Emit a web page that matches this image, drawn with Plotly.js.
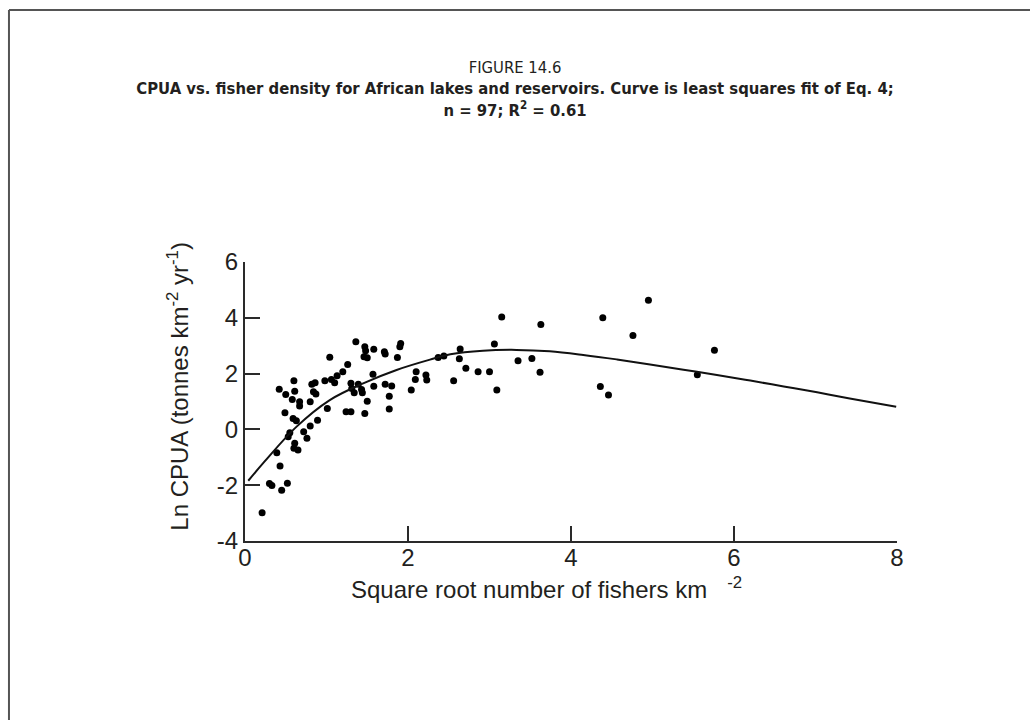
<!DOCTYPE html>
<html><head><meta charset="utf-8">
<script src="https://cdn.plot.ly/plotly-3.0.1.min.js"></script>
<style>html,body{margin:0;padding:0;background:#fff}#chart{width:1030px;height:720px}</style>
</head><body><div id="chart"></div>
<script>
// Observed lakes/reservoirs: sqrt fishers km^-2 vs Ln CPUA
const fisherX = [0.21,0.30,0.33,0.45,0.52,0.43,0.39,0.42,0.50,0.49,0.60,0.61,0.58,0.67,0.67,0.59,0.63,0.55,0.53,0.61,0.60,0.65,0.72,0.76,0.80,0.89,0.80,0.82,0.86,0.84,0.87,1.01,0.98,1.04,1.06,1.10,1.13,1.20,1.26,1.24,1.30,1.30,1.31,1.34,1.36,1.39,1.43,1.44,1.47,1.50,1.47,1.48,1.46,1.50,1.58,1.57,1.58,1.71,1.72,1.72,1.80,1.77,1.77,1.87,1.90,1.91,2.04,2.10,2.09,2.22,2.23,2.37,2.44,2.56,2.64,2.63,2.71,2.86,3.00,3.06,3.09,3.15,3.35,3.52,3.63,3.62,4.36,4.39,4.46,4.76,4.95,5.55,5.76];
const cpuaY = [-2.99,-1.94,-2.01,-2.18,-1.93,-1.31,-0.84,1.44,1.25,0.60,1.74,1.37,1.07,0.99,0.84,0.39,0.31,-0.12,-0.26,-0.50,-0.68,-0.74,-0.08,-0.32,0.12,0.33,0.99,1.62,1.67,1.35,1.27,0.75,1.74,2.59,1.79,1.67,1.92,2.07,2.33,0.63,0.63,1.65,1.47,1.31,3.14,1.62,1.43,1.31,0.57,1.01,2.96,2.82,2.60,2.57,2.87,1.98,1.55,2.78,2.70,1.62,1.56,1.19,0.73,2.58,2.96,3.08,1.41,2.07,1.79,1.95,1.77,2.58,2.63,1.74,2.88,2.53,2.19,2.07,2.07,3.06,1.41,4.03,2.46,2.54,3.76,2.05,1.54,4.00,1.23,3.37,4.63,1.96,2.84];
// Least squares curve (Eq. 4)
const fitX = [0.04,0.22,0.63,1.04,1.45,1.86,2.27,2.52,2.92,3.33,3.74,4.15,4.56,4.97,5.38,5.79,6.20,6.61,7.02,7.42,7.99];
const fitY = [-1.84,-1.22,0.09,1.05,1.65,2.13,2.50,2.69,2.82,2.85,2.80,2.67,2.51,2.33,2.14,1.95,1.75,1.54,1.33,1.11,0.81];
// Faint speck above the axis top
const speckX = [3.57];
const speckY = [6.46];
const xTickVals = [0,2,4,6,8];
const yTickVals = [-4,-2,0,2,4,6];

const ink = '#231f20';
const titleFont = "'Liberation Sans Narrow','Arial Narrow','DejaVu Sans Condensed',sans-serif";
const axisFont = "'Liberation Sans',Arial,Helvetica,sans-serif";

const traces = [
  {x: fisherX, y: cpuaY, type: 'scatter', mode: 'markers',
   marker: {color: '#000', size: 7}, hoverinfo: 'x+y', showlegend: false},
  {x: fitX, y: fitY, type: 'scatter', mode: 'lines',
   line: {color: '#111', width: 2, shape: 'spline', smoothing: 1}, showlegend: false},
  {x: speckX, y: speckY, type: 'scatter', mode: 'markers', cliponaxis: false,
   marker: {color: '#555', size: 4}, showlegend: false}
];

const layout = {
  width: 1030, height: 720,
  paper_bgcolor: '#fff', plot_bgcolor: '#fff',
  margin: {l: 245, r: 133, t: 262, b: 179},
  showlegend: false,
  title: {
    text: 'FIGURE 14.6<br><b>CPUA vs. fisher density for African lakes and reservoirs. Curve is least squares fit of Eq. 4;</b><br><b>n = 97; R<sup>2</sup> = 0.61</b>',
    font: {family: titleFont, size: 16.5, color: ink},
    x: 0.5, xref: 'container', xanchor: 'center',
    y: 0.899, yref: 'container', yanchor: 'top'
  },
  xaxis: {
    range: [0, 8], tickvals: xTickVals, ticktext: xTickVals.map(String),
    showgrid: false, zeroline: false, showline: true, linecolor: '#2a2a2a', linewidth: 2,
    ticks: 'inside', ticklen: 15, tickwidth: 2, tickcolor: '#2a2a2a', ticklabelstandoff: -6,
    tickfont: {family: axisFont, size: 24, color: ink}, fixedrange: true
  },
  yaxis: {
    range: [-4, 6], tickvals: yTickVals, ticktext: yTickVals.map(String),
    showgrid: false, zeroline: false, showline: true, linecolor: '#2a2a2a', linewidth: 2,
    ticks: 'inside', ticklen: 15, tickwidth: 2, tickcolor: '#2a2a2a',
    tickfont: {family: axisFont, size: 24, color: ink}, fixedrange: true
  },
  annotations: [
    {text: 'Square root number of fishers km&nbsp;&nbsp;&nbsp;<sup>-2</sup>', xref: 'paper', yref: 'paper',
     x: 0.462, y: -0.168, xanchor: 'center', yanchor: 'middle', showarrow: false,
     font: {family: axisFont, size: 24, color: ink}},
    {text: 'Ln CPUA (tonnes km<sup>-2</sup> yr<sup>-1</sup>)', xref: 'paper', yref: 'paper',
     x: -0.103, y: 0.556, xanchor: 'center', yanchor: 'middle', textangle: -90, showarrow: false,
     font: {family: axisFont, size: 24, color: ink}}
  ],
  shapes: [
    {type: 'line', xref: 'paper', yref: 'paper', x0: -0.362, x1: 1.3, y0: 1.903, y1: 1.903,
     line: {color: '#555', width: 2}},
    {type: 'line', xref: 'paper', yref: 'paper', x0: -0.362, x1: -0.362, y0: 1.903, y1: -0.8,
     line: {color: '#555', width: 2}}
  ]
};

Plotly.newPlot('chart', traces, layout, {displayModeBar: false, staticPlot: true});
</script>
</body></html>
